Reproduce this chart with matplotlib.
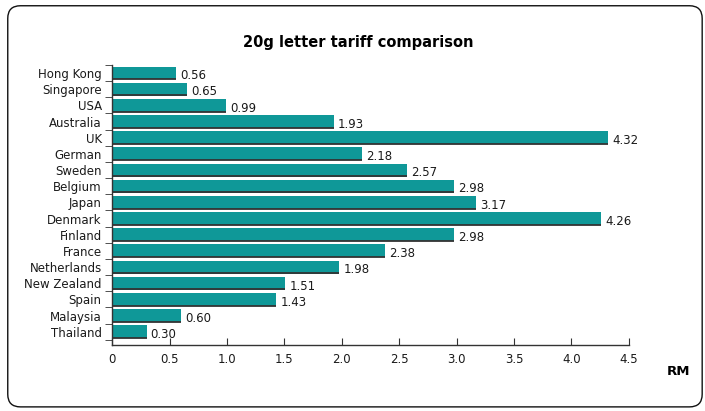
import numpy as np
import matplotlib.pyplot as plt
from matplotlib.patches import FancyBboxPatch

countries = ["Hong Kong", "Singapore", "USA", "Australia", "UK", "German", "Sweden",
             "Belgium", "Japan", "Denmark", "Finland", "France", "Netherlands",
             "New Zealand", "Spain", "Malaysia", "Thailand"]
tariff = [0.56, 0.65, 0.99, 1.93, 4.32, 2.18, 2.57, 2.98, 3.17, 4.26, 2.98, 2.38,
          1.98, 1.51, 1.43, 0.60, 0.30]
xticks = [0, 0.5, 1.0, 1.5, 2.0, 2.5, 3.0, 3.5, 4.0, 4.5]
xticklabels = ["0", "0.5", "1.0", "1.5", "2.0", "2.5", "3.0", "3.5", "4.0", "4.5"]

plt.rcParams['font.family'] = ['DejaVu Sans']

fig = plt.figure(figsize=(7.05, 4.11), dpi=100)

# rounded frame round the whole chart
frame = FancyBboxPatch((0.011, 0.01), 0.985, 0.976, transform=fig.transFigure,
                       boxstyle="round,pad=0,rounding_size=0.018", fc="none",
                       ec="#111111", lw=1.0, mutation_aspect=705/411, zorder=-1)
fig.patches.append(frame)

ax = fig.add_axes([0.159, 0.161, 0.733, 0.681])
ax.patch.set_alpha(0)
y = np.arange(len(countries))
h = 0.8
ax.barh(y, tariff, height=h, color="#0f9898", edgecolor="none", zorder=2)
# dark shadow line under each bar
ax.hlines(y + h / 2 - 0.02, 0, tariff, color="#333333", lw=1.3, zorder=3)

for yi, v in zip(y, tariff):
    ax.annotate(f"{v:.2f}", (v, yi), xytext=(3, -2), textcoords="offset points",
                va="center", ha="left", fontsize=8.5, color="#1a1a1a")

ax.set_xlim(0, 4.5)
ax.set_ylim(16.81, -0.5)
ax.set_xticks(xticks)
ax.set_xticklabels(xticklabels, fontsize=8.5, color="#1a1a1a")
ax.set_yticks(y)
ax.set_yticklabels(countries, fontsize=8.5, color="#1a1a1a")
ax.set_yticks(np.arange(len(countries) + 1) - 0.5, minor=True)
ax.tick_params(axis="y", which="major", length=0, pad=7.5)
ax.tick_params(axis="y", which="minor", length=5, direction="out", color="#333333")
ax.tick_params(axis="x", direction="in", length=5, pad=6, color="#333333")

for s in ["top", "right"]:
    ax.spines[s].set_visible(False)
for s in ["left", "bottom"]:
    ax.spines[s].set_color("#333333")
    ax.spines[s].set_linewidth(1.0)

fig.text(0.508, 0.897, "20g letter tariff comparison", ha="center", va="center",
         fontsize=10.5, fontweight="bold")
fig.text(0.963, 0.095, "RM", ha="center", va="center", fontsize=9.5,
         fontweight="bold")

fig.savefig("out.png", dpi=100)
